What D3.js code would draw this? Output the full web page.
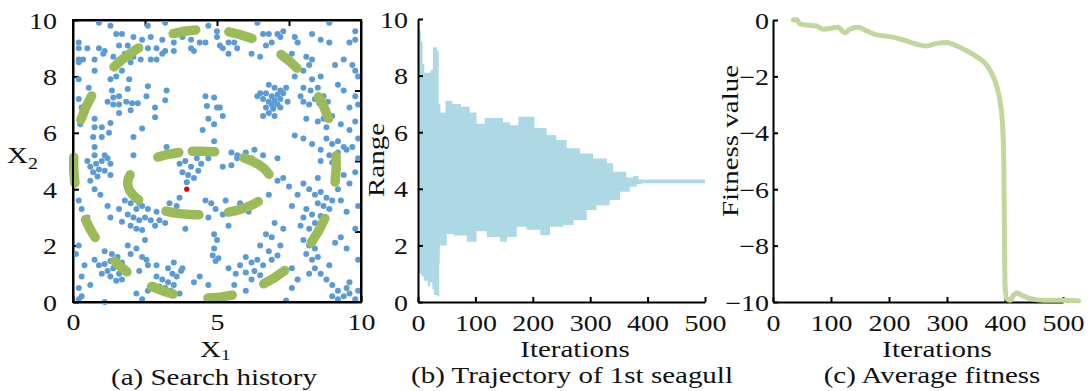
<!DOCTYPE html>
<html>
<head>
<meta charset="utf-8">
<script src="https://cdn.jsdelivr.net/npm/d3@7"></script>
<style>
  body { margin: 0; background: #fff; }
  text { font-family: "Liberation Serif", "Times New Roman", serif; fill: #111; }
</style>
</head>
<body>
<svg id="fig" width="1091" height="391"></svg>
<script>
// ---- (a) search history: every position visited, [x1, x2]
const searchPoints = [
  [0.9,9.9],[1.3,9.8],[2.6,9.8],[3.2,9.9],[4.7,9.8],[5.0,9.6],[6.4,9.9],[8.9,9.9],[9.8,9.6],[9.8,9.3],
  [0.2,9.2],[0.2,9.0],[1.5,9.5],[1.7,9.5],[2.1,9.4],[2.4,9.3],[2.7,9.4],[3.1,9.3],[3.5,9.2],[3.8,9.4],
  [4.1,9.3],[4.4,9.2],[5.0,9.4],[5.4,9.2],[5.6,9.2],[5.9,9.4],[6.6,9.5],[6.8,9.5],[7.1,9.5],[7.3,9.6],
  [7.2,9.4],[6.9,9.2],[6.7,9.1],[7.7,9.4],[7.8,9.2],[8.3,9.5],[8.6,9.3],[8.9,9.2],[9.6,9.2],[0.5,9.0],
  [0.9,9.0],[1.1,8.9],[1.6,9.1],[1.9,9.1],[2.2,9.0],[2.6,9.0],[2.9,9.0],[3.2,8.9],[3.5,8.9],[4.1,9.0],
  [4.6,9.2],[5.1,9.1],[5.2,9.0],[5.7,9.0],[5.4,8.8],
  [0.2,8.6],[0.35,8.6],[0.2,8.5],[0.75,8.6],[1.05,8.8],[1.4,8.7],[1.8,8.8],[2.1,8.7],[2.35,8.6],[2.7,8.6],
  [2.9,8.6],[2.0,8.5],[3.1,8.8],[4.2,8.9],[6.2,8.8],[6.5,8.7],[7.4,8.6],[7.6,8.8],[8.1,8.7],[8.3,8.6],
  [8.2,8.4],[0.75,8.2],[1.7,8.2],[8.0,8.2],[9.8,8.2],[9.7,8.4],[9.9,8.0],[0.2,7.9],[1.3,7.9],[1.5,8.0],
  [1.95,7.9],[7.7,8.0],[8.6,8.0],[8.3,7.9],[9.4,8.6],[9.1,8.4],
  [0.55,7.6],[1.35,7.5],[1.9,7.55],[2.6,7.65],[3.25,7.5],[1.4,7.25],[1.6,7.3],[1.2,7.1],[1.4,7.0],[1.6,7.0],
  [1.85,7.1],[2.05,7.05],[2.25,7.05],[2.55,7.3],[3.2,7.15],[4.6,7.3],[4.9,7.25],[4.65,6.95],[5.1,6.9],[0.2,7.2],
  [0.3,6.9],[9.8,7.3],[9.9,7.0],[9.6,6.9],[8.0,7.6],[8.25,7.5],[8.5,7.6],[8.7,7.3],[8.4,7.2],[8.2,7.0],
  [8.55,7.05],[8.85,7.1],[8.0,7.1],[7.9,7.3],[9.2,7.7],[9.4,7.5],
  [6.8,7.7],[7.0,7.6],[7.2,7.5],[6.5,7.4],[6.7,7.4],[6.9,7.3],[7.1,7.35],[7.3,7.4],[6.6,7.2],[6.8,7.1],
  [7.0,7.15],[7.2,7.2],[6.9,7.0],[7.1,7.0],[6.7,6.9],[6.95,6.85],[7.2,6.9],[6.8,6.7],[7.0,6.6],[6.6,6.6],
  [7.4,7.6],[7.45,7.1],[6.4,7.3],
  [2.0,6.8],[2.85,6.9],[1.6,6.7],[0.75,6.5],[2.85,6.55],[0.75,6.2],[1.0,6.2],[1.3,6.35],[2.4,6.15],[0.3,6.5],
  [0.25,6.3],[4.7,6.5],[5.0,6.9],[4.9,6.3],[5.2,6.6],[8.1,6.5],[8.5,6.4],[8.8,6.2],[9.0,6.6],[9.8,6.4],
  [9.6,6.1],[9.3,6.3],[8.7,6.5],
  [0.7,5.85],[1.0,5.85],[1.25,6.0],[2.1,5.85],[0.75,5.5],[0.75,5.2],[1.1,5.2],[1.3,4.9],[2.1,5.2],[3.25,5.5],
  [3.6,5.3],[4.5,6.1],[4.9,5.7],[5.5,5.3],[5.7,5.1],[6.3,5.4],[6.6,5.2],[6.5,4.9],[7.1,5.1],[7.7,5.9],
  [8.0,5.8],[8.3,5.6],[8.6,5.4],[8.8,5.8],[9.0,5.6],[9.2,5.7],[9.4,5.5],[9.5,5.4],[9.2,5.3],[8.9,5.2],
  [8.6,5.0],[9.0,4.95],[9.9,5.8],[9.9,5.1],[9.7,5.5],
  [0.5,5.0],[0.6,4.8],[0.8,4.9],[1.0,5.0],[1.2,5.1],[0.7,4.6],[0.9,4.7],[1.1,4.65],[0.85,4.45],[1.3,4.5],
  [0.6,4.3],
  [3.5,5.2],[3.7,4.9],[3.9,5.0],[4.1,4.8],[4.3,5.1],[4.45,4.9],[3.8,4.6],[4.0,4.5],[4.2,4.4],[4.35,4.65],
  [3.95,4.25],[5.2,4.8],[5.5,4.85],[5.7,5.2],[6.0,5.3],[6.2,5.1],[4.7,5.1],[5.3,3.6],[4.6,3.6],[4.8,3.5],
  [4.95,3.3],[3.35,3.5],[3.6,3.4],[3.7,3.7],[5.8,3.5],[6.1,3.2],[6.0,3.4],[6.4,3.5],[6.8,3.8],[7.1,4.3],
  [7.3,4.4],
  [1.8,3.6],[2.0,3.5],[2.2,3.3],[2.4,3.4],[1.9,3.1],[2.1,3.0],[2.3,2.9],[2.5,3.0],[2.7,2.9],[2.6,3.3],
  [2.0,2.7],[2.2,2.6],[2.4,2.55],[2.85,2.7],[2.9,3.2],[3.0,2.9],[3.2,2.8],[1.7,2.85],[1.6,3.3],[2.5,2.2],
  [2.3,3.5],[1.2,3.4],[1.3,3.0],[0.3,3.3],[0.5,3.0],[0.2,3.6],[0.75,4.0],[0.95,3.8],
  [8.0,4.2],[8.2,4.0],[8.4,3.8],[8.6,3.9],[8.8,3.7],[9.0,3.6],[8.5,3.5],[8.7,3.4],[8.9,3.3],[8.1,3.3],
  [8.3,3.1],[8.6,3.05],[8.0,3.0],[8.4,2.8],[7.9,2.7],[8.2,2.6],[7.6,3.4],[7.8,3.8],[9.1,4.3],[9.2,4.0],
  [9.3,3.6],[9.5,3.2],[9.9,3.4],[9.8,4.6],[9.6,4.2],[7.5,4.1],[8.5,4.4],[9.4,4.5],
  [4.9,2.4],[5.0,2.2],[4.85,1.65],[5.05,1.55],[4.95,1.45],[4.9,1.9],[5.4,1.2],[5.65,1.0],[4.7,0.6],[4.4,0.9],
  [5.4,2.7],[5.2,3.1],[4.7,3.0],[3.8,1.2],[4.2,0.7],[3.9,2.6],
  [1.1,1.8],[1.35,1.7],[1.55,1.6],[1.3,1.45],[1.1,1.35],[0.9,1.3],[1.5,1.3],[1.7,1.4],[1.4,1.2],[1.2,1.1],
  [1.6,1.0],[1.85,1.1],[1.0,1.0],[1.3,0.9],[1.5,0.75],[1.7,0.8],[0.75,1.5],[0.4,1.3],[0.3,0.9],[0.2,0.5],
  [0.3,0.2],[2.0,1.7],[1.9,2.0],[2.2,1.9],[2.4,1.6],[2.6,1.3],[2.3,1.1],[2.55,1.5],[2.9,1.3],[3.3,1.2],
  [2.9,0.9],[3.1,0.8],[3.3,0.7],[3.5,0.6],[3.6,0.9],[3.2,0.5],[3.0,0.55],[3.4,0.4],[3.7,0.3],[2.8,0.6],
  [3.5,1.4],[3.45,1.0],[3.75,1.1],[2.2,0.3],[2.6,0.4],[2.4,0.1],
  [5.8,1.3],[6.0,1.6],[6.2,1.4],[6.4,1.5],[6.6,1.3],[6.3,1.1],[6.0,1.05],[6.5,0.95],[6.7,0.7],[6.2,0.8],
  [6.5,2.0],[6.8,1.8],[6.9,1.5],[7.1,1.65],[7.2,2.0],[6.9,2.3],[6.7,2.4],[7.3,2.6],[7.0,2.8],[6.0,0.4],
  [5.6,0.6],[7.6,1.2],[7.8,0.8],[7.6,0.5],[7.4,0.05],
  [8.0,2.2],[8.2,2.0],[8.4,1.9],[8.1,1.7],[8.3,1.5],[8.5,1.6],[8.4,1.2],[8.6,1.0],[8.8,0.8],[8.2,1.0],
  [9.1,2.1],[9.3,2.3],[9.5,1.9],[9.9,1.5],[9.8,2.6],[9.0,0.6],[9.2,0.4],[9.4,0.2],[9.6,0.3],[9.8,0.1],
  [9.2,0.1],[9.0,0.2],[9.5,0.5],[9.9,0.4],[8.9,1.3],[9.6,0.7],
  [0.2,2.0],[0.1,1.7],[0.2,0.1],[0.6,0.6],[1.1,0.0]
];
const bestPoint = [3.95, 4.0];

// green trajectory arcs: ellipse centre / radii, dashes as [from, to] angle in degrees
const outerRing = { cx: 4.58, cy: 4.9, rx: 4.56, ry: 4.76 };
const outerDashes = [[106,92],[81.5,67],[56.6,43.4],[32,17.7],[5.4,-9.8],[-22,-38],[-50.6,-65.4],
  [-76,-90.7],[-102,-116],[-124.4,-135.5],[-144.7,-157.4],[-169.8,-184.8],[162.8,147.6],[135.8,118.3]];
const innerRing = { cx: 4.4, cy: 4.22, rx: 2.5, ry: 1.13 };
const innerDashes = [[127.6,104.8],[97.9,76],[54.4,14],[-33.6,-68.4],[-88.6,-120],[-146,-196.8]];

// ---- (b) trajectory of 1st seagull: envelope of the oscillation (value holds until next iteration)
const trajIter  = [0,3,5,6,8,10,11,17,21,22,25,26,28,33,35,36,37,38,39,48,50,60,62,75,85,90,102,116,120,143,
  148,155,160,172,175,189,203,213,224,230,241,253,259,271,282,294,305,311,329,334,340,352,363,369,375,381,384,390,500];
const trajUpper = [10,9.6,9.2,9.2,8.4,8.4,8.1,8.1,8.1,8.2,8.2,9.0,9.0,8.9,8.9,7.0,7.0,7.0,6.7,7.1,
  7.1,7.0,7.0,6.9,6.9,6.7,6.3,6.5,6.5,6.5,6.35,6.35,6.25,6.25,6.55,6.55,6.15,6.15,5.9,5.9,
  5.72,5.72,5.43,5.43,5.25,5.25,5.07,5.07,4.9,4.9,4.6,4.6,4.4,4.4,4.45,4.45,4.33,4.33,4.33];
const trajLower = [1.0,1.0,1.0,0.9,0.9,0.75,0.75,0.55,0.7,0.7,0.45,0.45,0.25,0.2,0.2,0.2,1.37,2.0,2.0,2.0,
  2.4,2.4,2.35,2.35,2.13,2.13,2.5,2.5,2.3,2.13,2.13,2.3,2.3,2.66,2.66,2.55,2.55,2.36,2.36,2.66,
  2.66,2.72,2.72,2.9,2.9,3.25,3.25,3.42,3.42,3.6,3.6,3.9,3.9,4.07,4.07,4.17,4.17,4.2,4.2];

// ---- (c) average fitness
const fitIter = [35,41,46,58,75,86,98,112,124,132,147,161,179,202,225,248,265,282,300,317,334,351,366,377,386,392,396,398,399,400,403,409,415,420,429,444,467,501,527];
const fitVal  = [0,0.02,-0.14,-0.18,-0.21,-0.33,-0.3,-0.26,-0.45,-0.33,-0.26,-0.38,-0.53,-0.59,-0.71,-0.86,-0.92,-0.83,-0.8,-0.92,-1.09,-1.3,-1.54,-1.89,-2.37,-2.96,-3.79,-5.2,-7.6,-9.4,-9.88,-9.94,-9.76,-9.68,-9.76,-9.88,-9.94,-9.94,-9.96];

const ticksA = [0, 5, 10], ticksA2 = [0, 2, 4, 6, 8, 10], ticksAMinor = [2.5, 5, 7.5];
const ticksIter = [0, 100, 200, 300, 400, 500];
const ticksRange = [0, 2, 4, 6, 8, 10];
const ticksFit = [-10, -8, -6, -4, -2, 0];

const SQ = 0.82;   // text in the source is squashed vertically
const svg = d3.select('#fig');

function styleAxis(g, dx, dy) {
  g.attr('font-size', 28);
  g.select('.domain').attr('stroke-width', 2).attr('stroke', '#000');
  g.selectAll('.tick line').attr('stroke-width', 2).attr('stroke', '#000');
  g.selectAll('.tick text')
    .attr('x', null).attr('y', null).attr('dy', null)
    .attr('transform', `translate(${dx},${dy}) scale(1,${SQ})`);
}

function label(x, y, s, rot, anchor) {
  return svg.append('text')
    .attr('transform', `translate(${x},${y})` + (rot ? ` rotate(${rot})` : '') + ` scale(1,${SQ})`)
    .attr('text-anchor', anchor || 'middle')
    .attr('font-size', 29)
    .text(s);
}

// ===== panel (a)
const xa = d3.scaleLinear([0, 10], [73, 361]);
const ya = d3.scaleLinear([0, 10], [302, 20]);

styleAxis(svg.append('g').attr('transform', 'translate(0,302)')
  .call(d3.axisBottom(xa).tickValues(ticksA).tickSizeInner(-6).tickSizeOuter(0)), 0, 28);
styleAxis(svg.append('g').attr('transform', 'translate(73,0)')
  .call(d3.axisLeft(ya).tickValues(ticksA2).tickSizeInner(-6).tickSizeOuter(0)), -16, 8);
styleAxis(svg.append('g').attr('transform', 'translate(0,20)')
  .call(d3.axisTop(xa).tickValues(ticksAMinor).tickSizeInner(-6).tickSizeOuter(0).tickFormat('')), 0, 0);
styleAxis(svg.append('g').attr('transform', 'translate(361,0)')
  .call(d3.axisRight(ya).tickValues(ticksAMinor).tickSizeInner(-6).tickSizeOuter(0).tickFormat('')), 0, 0);

svg.append('g').selectAll('circle').data(searchPoints).join('circle')
  .attr('cx', d => xa(d[0])).attr('cy', d => ya(d[1])).attr('r', 3)
  .attr('fill', '#5b9bd5');

function arcPath(ring, d) {
  const trim = 2;
  const a0 = (d[0] - trim) * Math.PI / 180, a1 = (d[1] + trim) * Math.PI / 180;
  const rxp = xa(ring.cx + ring.rx) - xa(ring.cx), ryp = ya(ring.cy) - ya(ring.cy + ring.ry);
  const p0 = [xa(ring.cx + ring.rx * Math.cos(a0)), ya(ring.cy + ring.ry * Math.sin(a0))];
  const p1 = [xa(ring.cx + ring.rx * Math.cos(a1)), ya(ring.cy + ring.ry * Math.sin(a1))];
  return `M${p0[0]},${p0[1]} A${rxp},${ryp} 0 0 1 ${p1[0]},${p1[1]}`;
}
const rings = svg.append('g').attr('fill', 'none').attr('stroke', '#9bbb59')
  .attr('stroke-width', 9.5).attr('stroke-linecap', 'round');
rings.selectAll('.outer').data(outerDashes).join('path').attr('class', 'outer')
  .attr('d', d => arcPath(outerRing, d));
rings.selectAll('.inner').data(innerDashes).join('path').attr('class', 'inner')
  .attr('d', d => arcPath(innerRing, d));

svg.append('circle').attr('cx', xa(bestPoint[0])).attr('cy', ya(bestPoint[1])).attr('r', 2.6).attr('fill', '#e00000');

svg.append('rect').attr('x', 73).attr('y', 20).attr('width', 288).attr('height', 282)
  .attr('fill', 'none').attr('stroke', '#000').attr('stroke-width', 2);

const xl = label(200, 356.5, 'X', null, 'start');
xl.append('tspan').attr('dy', 4).attr('font-size', 19).text('1');
const yl = label(7, 163, 'X', null, 'start');
yl.append('tspan').attr('dy', 7).attr('font-size', 20).text('2');
label(214, 384.5, '(a) Search history');

// ===== panel (b)
const xb = d3.scaleLinear([0, 500], [418, 705]);
const yb = d3.scaleLinear([0, 10], [302, 19]);

svg.append('path')
  .datum(d3.range(trajIter.length))
  .attr('fill', '#add8e6')
  .attr('d', d3.area().curve(d3.curveStepAfter)
    .x(i => xb(trajIter[i])).y0(i => yb(trajLower[i])).y1(i => yb(trajUpper[i])));

styleAxis(svg.append('g').attr('transform', 'translate(0,302)')
  .call(d3.axisBottom(xb).tickValues(ticksIter).tickSizeInner(-5).tickSizeOuter(0)), 0, 29);
styleAxis(svg.append('g').attr('transform', 'translate(418,0)')
  .call(d3.axisLeft(yb).tickValues(ticksRange).tickSizeInner(-5).tickSizeOuter(0)), -10, 8);

label(575, 356.5, 'Iterations');
label(384, 160, 'Range', -90);
label(572, 383, '(b) Trajectory of 1st seagull');

// ===== panel (c)
const xc = d3.scaleLinear([0, 500], [773, 1063]);
const yc = d3.scaleLinear([-10, 0], [302, 20]);

styleAxis(svg.append('g').attr('transform', 'translate(0,302)')
  .call(d3.axisBottom(xc).tickValues(ticksIter).tickSizeInner(-5).tickSizeOuter(0)), 0, 29);
styleAxis(svg.append('g').attr('transform', 'translate(773,0)')
  .call(d3.axisLeft(yc).tickValues(ticksFit).tickSizeInner(-5).tickSizeOuter(0)), -4, 8);

svg.append('path')
  .datum(d3.range(fitIter.length))
  .attr('fill', 'none').attr('stroke', '#c3d69b').attr('stroke-width', 5)
  .attr('stroke-linecap', 'round').attr('stroke-linejoin', 'round')
  .attr('d', d3.line().curve(d3.curveMonotoneX).x(i => xc(fitIter[i])).y(i => yc(fitVal[i])));

label(937, 356.5, 'Iterations');
label(738, 141, 'Fitness value', -90);
label(932, 383, '(c) Average fitness');
</script>
</body>
</html>
